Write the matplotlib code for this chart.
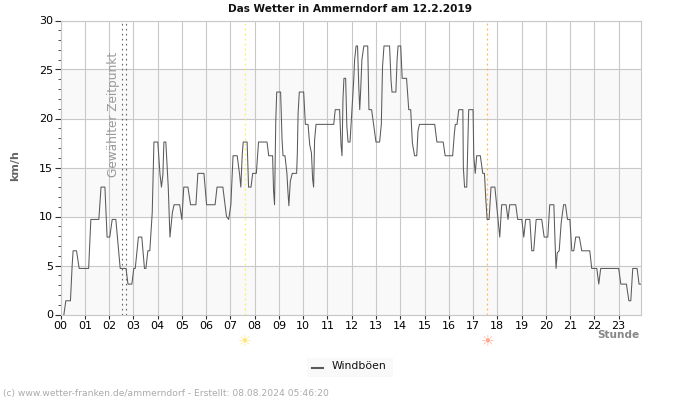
import matplotlib
matplotlib.use("Agg")
import matplotlib.pyplot as plt
from matplotlib.patches import Rectangle
from matplotlib.lines import Line2D

# breakpoints, hours / km/h
hours = [0.14, 0.22, 0.41, 0.48, 0.52, 0.66, 0.77, 1.16, 1.25, 1.58, 1.67, 1.83, 1.92, 2.03, 2.13, 2.28,
         2.46, 2.70, 2.78, 2.94, 3.02, 3.08, 3.21, 3.35, 3.46, 3.52, 3.60, 3.68, 3.78, 3.85, 4.01, 4.10,
         4.16, 4.22, 4.26, 4.34, 4.44, 4.51, 4.61, 4.68, 4.91, 5.00, 5.08, 5.25, 5.36, 5.58, 5.66, 5.91,
         6.02, 6.37, 6.45, 6.69, 6.84, 6.93, 7.02, 7.11, 7.28, 7.38, 7.43, 7.49, 7.53, 7.69, 7.75, 7.85,
         7.92, 8.07, 8.16, 8.51, 8.58, 8.74, 8.78, 8.82, 8.87, 8.91, 9.07, 9.13, 9.17, 9.25, 9.33, 9.37,
         9.41, 9.47, 9.55, 9.73, 9.76, 9.79, 9.84, 10.02, 10.09, 10.20, 10.27, 10.34, 10.39, 10.43, 10.47, 10.53,
         11.26, 11.32, 11.50, 11.56, 11.60, 11.64, 11.68, 11.75, 11.80, 11.85, 11.93, 12.01, 12.08, 12.12,
         12.18, 12.24, 12.29, 12.33, 12.37, 12.42, 12.50, 12.66, 12.71, 12.82, 12.90, 13.00, 13.15, 13.22,
         13.27, 13.33, 13.56, 13.62, 13.66, 13.82, 13.87, 13.91, 14.02, 14.08, 14.26, 14.35, 14.43, 14.50,
         14.59, 14.68, 14.73, 14.79, 15.42, 15.51, 15.77, 15.85, 16.16, 16.23, 16.27, 16.34, 16.41, 16.58,
         16.60, 16.65, 16.74, 16.78, 16.82, 17.00, 17.03, 17.09, 17.15, 17.30, 17.40, 17.47, 17.52, 17.58,
         17.66, 17.74, 17.90, 17.99, 18.10, 18.18, 18.36, 18.44, 18.51, 18.76, 18.84, 19.01, 19.09, 19.17,
         19.34, 19.42, 19.50, 19.60, 19.83, 19.93, 20.08, 20.16, 20.33, 20.38, 20.42, 20.47, 20.55, 20.63,
         20.73, 20.81, 20.89, 20.99, 21.07, 21.15, 21.23, 21.38, 21.48, 21.81, 21.89, 22.10, 22.18, 22.26,
         23.00, 23.09, 23.32, 23.42, 23.50, 23.58, 23.76, 23.84, 23.92]
gusts = [0, 1.4, 1.4, 5, 6.5, 6.5, 4.7, 4.7, 9.7, 9.7, 13, 13, 7.9, 7.9, 9.7, 9.7,
         4.7, 4.7, 3.1, 3.1, 4.7, 4.7, 7.9, 7.9, 4.7, 4.7, 6.5, 6.5, 10.4, 17.6, 17.6, 14.3,
         13, 14.3, 17.6, 17.6, 13, 7.9, 10.4, 11.2, 11.2, 9.7, 13, 13, 11.2, 11.2, 14.4, 14.4,
         11.2, 11.2, 13, 13, 10, 9.7, 11.2, 16.2, 16.2, 14.3, 13, 16.4, 17.6, 17.6, 13, 13,
         14.4, 14.4, 17.6, 17.6, 16.2, 16.2, 12.6, 11.2, 19.7, 22.7, 22.7, 17.8, 16.2, 16.2, 14.4, 12.6,
         11.1, 13.6, 14.4, 14.4, 16.5, 20.5, 22.7, 22.7, 19.4, 19.4, 17.3, 16.5, 13.8, 13, 17.8, 19.4,
         19.4, 20.9, 20.9, 17.3, 16.2, 22, 24.1, 24.1, 19.2, 17.6, 17.6, 20.9, 23.8, 26,
         27.4, 27.4, 23.3, 20.9, 22.9, 26, 27.4, 27.4, 20.9, 20.9, 19.4, 17.6, 17.6, 19.4,
         25.3, 27.4, 27.4, 23.9, 22.7, 22.7, 26, 27.4, 27.4, 24.1, 24.1, 20.9, 20.9, 17.5,
         16.2, 16.2, 18.7, 19.4, 19.4, 17.6, 17.6, 16.2, 16.2, 18.5, 19.4, 19.4, 20.9, 20.9,
         15, 13, 13, 17, 20.9, 20.9, 16.2, 14.4, 16.2, 16.2, 14.4, 14.4, 12, 9.7,
         9.7, 13, 13, 10.7, 7.9, 11.2, 11.2, 9.7, 11.2, 11.2, 9.7, 9.7, 7.9, 9.7,
         9.7, 6.5, 6.5, 9.7, 9.7, 7.9, 7.9, 11.2, 11.2, 7.3, 4.7, 6.3, 6.5, 9.3,
         11.2, 11.2, 9.7, 9.7, 6.5, 6.5, 7.9, 7.9, 6.5, 6.5, 4.7, 4.7, 3.1, 4.7,
         4.7, 3.1, 3.1, 1.4, 1.4, 4.7, 4.7, 3.1, 3.1]
hour_labels = ["%02d" % h for h in range(24)]
y_ticks = [0, 5, 10, 15, 20, 25, 30]
grey_bands = [(0, 5), (10, 15), (20, 25)]
selected_time = [2.53, 2.69]
sunrise = 7.6
sunset = 17.58

GRID = "#c8c8c8"
LINE = "#5a5a5a"

fig = plt.figure(figsize=(7, 4), dpi=100)
ax = fig.add_axes([60.5/700, 85.5/400, 580/700, 294/400])
ax.set_xlim(0, 23.9)
ax.set_ylim(0, 30)

for lo, hi in grey_bands:
    ax.axhspan(lo, hi, color="#f9f9f9", lw=0, zorder=0)
ax.set_xticks(range(24))
ax.set_xticklabels(hour_labels, fontsize=8)
ax.set_yticks(y_ticks)
ax.set_yticks(range(31), minor=True)
ax.tick_params(axis="y", which="major", labelsize=8, length=4, color="#333333", pad=1.5)
ax.tick_params(axis="y", which="minor", length=2, color="#333333")
ax.tick_params(axis="x", length=3, color="#333333", pad=1.5)
ax.grid(True, which="major", color=GRID, lw=0.8, zorder=1)
ax.set_axisbelow(True)
for name, sp in ax.spines.items():
    sp.set_color(GRID)
    sp.set_linewidth(0.8)

for t in selected_time:
    ax.axvline(t, color="#666666", lw=0.8, ls=(0, (1.5, 3)), zorder=2)
ax.axvline(sunrise, color="#ffee58", lw=0.9, ls=(0, (1.5, 2.5)), zorder=2)
ax.axvline(sunset, color="#ffb74d", lw=0.9, ls=(0, (1.5, 2.5)), zorder=2)

ax.plot(hours, gusts, color=LINE, lw=0.75, zorder=3)

ax.text(2.2, 14, "Gewählter Zeitpunkt", rotation=90, color="#999999", fontsize=8.7,
        ha="center", va="bottom")

trans = ax.get_xaxis_transform()
ax.text(sunrise, -0.09, "☀", transform=trans, color="#ffe680", fontsize=11, ha="center", va="center")
ax.text(sunset, -0.09, "☀", transform=trans, color="#ffab91", fontsize=11, ha="center", va="center")

fig.text(350/700, 1 - 8.5/400, "Das Wetter in Ammerndorf am 12.2.2019", fontsize=7.6, fontweight="bold",
         ha="center", va="center", color="#111111")
fig.text(15/700, 1 - 166/400, "km/h", rotation=90, fontsize=8, fontweight="bold", color="#666666",
         ha="center", va="center")
fig.text(639.5/700, 1 - 335/400, "Stunde", fontsize=7.6, fontweight="bold", color="#888888",
         ha="right", va="center")

fig.add_artist(Rectangle((307/700, 1 - 377/400), 86/700, 19/400, transform=fig.transFigure,
                         color="#f9f9f9", lw=0))
fig.add_artist(Line2D([312/700, 323/700], [1 - 367.5/400] * 2, transform=fig.transFigure, color=LINE, lw=1.5))
fig.text(332/700, 1 - 366/400, "Windböen", fontsize=7.8, ha="left", va="center", color="#111111")
fig.text(3/700, 1 - 393.5/400, "(c) www.wetter-franken.de/ammerndorf - Erstellt: 08.08.2024 05:46:20",
         fontsize=6.6, color="#aaaaaa", ha="left", va="center")

fig.savefig("out.png", dpi=100)
